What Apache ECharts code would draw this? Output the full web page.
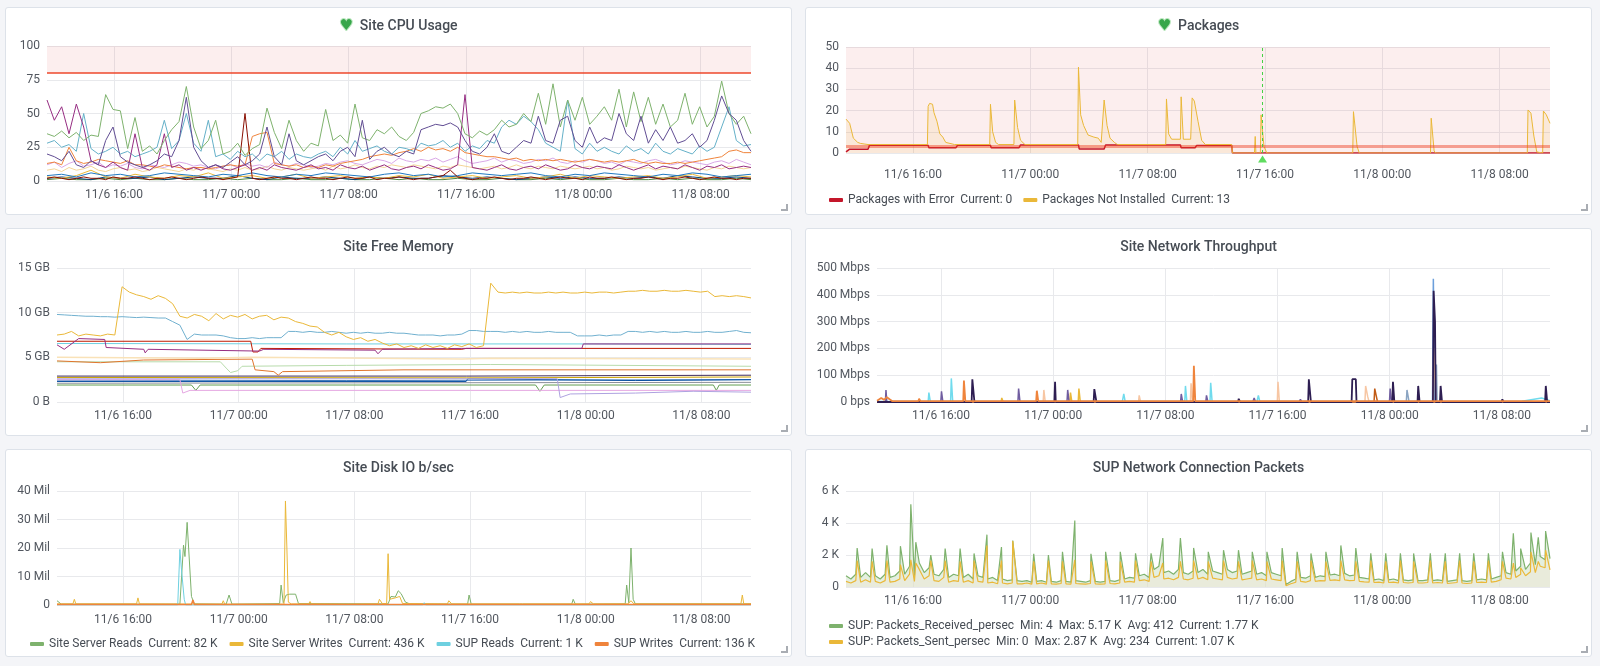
<!DOCTYPE html>
<html lang="en">
<head>
<meta charset="UTF-8">
<title>Site Dashboard</title>
<script src="https://cdn.jsdelivr.net/npm/echarts@6.0.0/dist/echarts.min.js"></script>
<style>
  html, body { margin: 0; padding: 0; background: #f4f5f8; }
  body { width: 1600px; height: 666px; position: relative; overflow: hidden; }
  .panel { position: absolute; width: 787px; height: 208px; box-sizing: border-box;
           background: #fff; border: 1px solid #dde2e9; border-radius: 3px; }
  .panel .chart { position: absolute; left: 0; top: 0; width: 785px; height: 206px; }
  /* grafana resize corner */
  .panel:after { content: ''; position: absolute; right: 3px; bottom: 3px; width: 5px; height: 5px;
                 border-right: 2px solid #a9adb3; border-bottom: 2px solid #a9adb3; }
</style>
</head>
<body>

<div class="panel" style="left:5px;top:7px"><div class="chart" id="cpu"></div></div>
<div class="panel" style="left:805px;top:7px"><div class="chart" id="pkg"></div></div>
<div class="panel" style="left:5px;top:228px"><div class="chart" id="mem"></div></div>
<div class="panel" style="left:805px;top:228px"><div class="chart" id="net"></div></div>
<div class="panel" style="left:5px;top:449px"><div class="chart" id="disk"></div></div>
<div class="panel" style="left:805px;top:449px"><div class="chart" id="sup"></div></div>

<script>
// ---- time window: 48h starting 11/6 11:26, data x = hours from start ----
var START = new Date(2019, 10, 6, 11, 26).getTime();
var HOUR = 3600 * 1000;
var SPAN_H = 48;
var tickLabels = ['11/6 16:00', '11/7 00:00', '11/7 08:00', '11/7 16:00', '11/8 00:00', '11/8 08:00'];

// ---- Site CPU Usage (%), one value every 30 min ----
var cpuGreen = [35,33,37,32,36,30,34,33,64,53,52,24, 47,22,26,20,30,38,44,70,40,24,30,45,
  20,22,28,19,24,27,54,36,24,45,30,22, 28,26,53,30,34,28,57,32,30,38,35,40,
  33,30,36,50,52,55,54,57,50,35,32,37, 34,38,45,40,42,50,44,65,42,72,40,60,
  45,62,42,48,55,45,68,40,66,44,62,42, 57,40,45,65,42,55,40,48,74,50,42,48, 35];
var cpuBlue = [28,30,25,27,22,50,24,20,22,25,20,22, 18,20,22,25,45,24,30,50,28,22,45,18,
  20,16,22,18,20,15,20,18,22,16,20,18, 17,20,22,18,25,20,30,22,24,26,22,20,
  25,24,22,28,26,27,30,25,28,22,26,24, 30,28,40,45,42,48,44,38,28,25,22,60,
  24,20,28,22,25,22,20,26,22,24,20,28, 22,20,24,22,20,26,22,25,40,55,30,26, 27];
var cpuPurple = [20,18,15,22,12,10,15,12,30,40,18,14, 12,10,12,15,20,18,30,62,25,15,10,12,
  10,14,18,12,15,20,40,18,12,35,15,12, 15,18,20,15,22,25,18,45,16,22,25,20,
  18,22,20,38,40,42,41,43,40,30,22,20, 25,35,22,20,25,30,28,48,30,28,45,48,
  30,25,40,28,32,30,50,35,30,48,28,38, 30,40,28,30,35,25,30,45,63,50,45,30, 22];
var cpuMagenta = [60,45,55,35,57,40,15,12,10,14,10,8, 35,10,8,12,35,10,12,8,10,8,10,12,
  9,8,10,12,8,10,8,12,10,9,8,10, 12,9,10,8,12,10,9,11,8,10,12,9,
  8,10,11,9,12,10,8,9,12,64,10,9, 8,10,12,9,8,10,11,9,12,10,8,9,
  12,10,9,11,10,9,12,10,8,10,12,9, 11,10,9,12,10,8,11,10,12,9,10,11, 10];
var cpuOrange = [13,14,12,25,15,13,14,16,15,14,13,15, 12,12,11,10,12,11,10,9,10,10,9,10,
  11,12,11,12,33,35,36,13,12,11,12,10, 11,10,12,11,13,14,15,16,18,19,20,19,
  21,22,24,22,25,23,24,22,25,21,20,19, 18,18,17,16,17,15,16,15,16,15,16,15,
  14,15,16,15,14,15,14,15,16,14,13,14, 13,13,14,13,14,15,16,17,18,22,23,21, 21];
var cpuLavender = [12,14,10,13,15,11,12,14,10,12,11,13, 10,9,12,11,10,12,14,13,11,12,10,9,
  11,12,10,13,11,12,10,14,12,11,13,12, 10,11,13,12,14,15,13,12,14,16,15,13,
  17,15,14,16,15,17,14,16,18,15,13,14, 15,17,14,16,15,13,14,16,15,17,14,13,
  15,14,16,15,13,14,12,15,14,13,15,16, 14,12,13,15,14,13,12,14,15,13,16,14, 12];
var cpuCream = [8,9,7,10,8,9,11,8,7,9,10,8, 9,7,8,10,9,8,7,9,8,10,9,8,
  7,9,8,10,8,9,11,9,8,10,9,8, 9,10,8,11,9,10,12,10,9,11,10,12,
  11,10,12,11,10,9,11,10,12,11,10,9, 10,11,9,10,12,10,9,11,10,9,11,10,
  9,10,11,9,10,8,9,11,10,9,10,8, 9,10,9,11,10,9,8,10,9,11,10,9, 10];
var cpuDarkRed = [2,3,2,1,2,3,2,2,1,3,2,2, 3,2,1,2,2,3,2,1,2,3,2,2,
  1,2,3,50,2,1,2,3,2,2,1,2, 3,2,2,1,2,3,2,2,3,1,2,2,
  3,2,1,2,2,3,4,8,3,2,1,2, 2,3,2,1,2,2,3,2,1,2,3,2,
  2,1,3,2,2,3,2,1,2,2,3,2, 1,2,2,3,2,1,2,3,2,2,1,2, 2];
// hourly low-usage hosts
var cpuBlueLow = [4,5,3,6,4,5,3,4,6,5, 4,3,5,4,6,4,3,5,4,6, 5,4,3,5,6,4,5,3,4,6, 5,4,5,6,4,3,5,4,6,5, 4,3,5,4,6,5,3,4,5];
var cpuYellowLow = [3,2,4,8,3,2,5,3,2,4, 3,6,2,3,4,2,3,5,2,3, 4,2,3,2,4,3,5,2,3,4, 2,3,4,2,3,5,2,4,3,2, 3,4,2,3,5,2,3,4,3];
var cpuNavyLow = [2,3,2,1,3,2,2,3,1,2, 3,2,2,4,2,1,3,2,2,3, 2,1,3,2,3,2,2,4,3,2, 3,2,1,2,3,2,3,2,2,3, 2,3,2,4,3,2,2,3,2];
var cpuGreenLow = [1,2,1,1,2,1,2,1,1,2, 1,1,2,1,2,1,1,2,1,1, 2,1,1,2,1,2,1,1,2,1, 1,2,1,1,2,1,2,1,1,2, 1,1,2,1,2,1,1,2,1];
var cpuThreshold = 80;

// ---- Packages, [hour, count] ----
var pkgError = [[0,0.5],[0.25,1.8],[1.5,1.8],[1.6,3.6],[5.6,3.6],[5.65,2.5],[7.5,2.5],[7.6,3.6],[9.85,3.6],[9.9,2.5],
  [11.8,2.5],[11.9,3.8],[15.85,3.8],[15.9,1.9],[17.6,1.9],[17.7,3.8],[22.8,3.8],[22.85,2.5],[23.8,2.5],[23.9,3.5],
  [26.3,3.5],[26.35,0],[48,0]];
var pkgNotInstalled = [[0,16],[0.25,14],[0.5,7],[0.8,5],[1.0,4.5],[1.5,4],[5.55,4],[5.6,22],[5.7,23.4],[5.9,23],
  [6.0,19],[6.2,15],[6.4,9],[6.6,7.5],[6.8,5],[7.4,4],[9.8,4],[9.85,23],[10.0,10],[10.2,5],[10.4,4],[11.45,4],
  [11.5,25],[11.7,12],[11.9,6],[12.2,4],[15.8,4],[15.85,40.5],[16.0,18],[16.2,13],[16.5,8.5],[16.9,7.5],[17.2,7],
  [17.4,5],[17.6,25],[17.8,13],[18.0,7],[18.3,5],[18.5,4],[21.8,4],[21.85,25.5],[22.0,9],[22.2,6.5],[22.8,6.5],
  [22.85,26.5],[23.0,6.5],[23.5,6.5],[23.6,26],[23.75,24.5],[24.0,15],[24.25,6],[24.5,4],[26.3,4],[26.35,0],
  [27.85,0],[27.9,7.8],[27.95,0],[28.25,0],[28.3,18],[28.5,3],[28.7,0],[34.55,0],[34.6,19.5],[34.85,3],[35.0,0],
  [39.85,0],[39.9,16.4],[40.1,1],[40.2,0],[46.45,0],[46.5,20.3],[46.7,18.8],[46.9,8],[47.1,0.5],[47.5,0],
  [47.55,19.8],[47.75,18],[48,14]];
var pkgThreshold = 3;
var pkgAnnotationHour = 28.4;
var pkgNames = ['Packages with Error', 'Packages Not Installed'];
var pkgCurrent = ['0', '13'];

// ---- Site Free Memory (GB) ----
var memYellow = [7.5,7.6,7.9,7.4,7.6,7.5,7.4,7.6,7.5,12.9,12.3,12.0, 11.8,11.5,11.9,11.6,11.0,9.6,9.4,9.8,9.6,9.1,9.9,9.3,
  9.7,9.5,9.8,9.3,9.6,9.7,9.2,9.5,9.4,9.0,8.8,8.5, 8.4,7.8,7.5,7.8,7.3,7.0,7.2,6.8,7.0,6.6,6.3,6.5,
  6.1,6.3,6.0,6.4,6.1,6.3,6.0,6.4,6.2,6.5,6.1,6.3, 13.3,12.3,12.2,12.3,12.2,12.3,12.2,12.2,12.3,12.2,12.3,12.2,
  12.2,12.3,12.2,12.3,12.3,12.2,12.3,12.4,12.4,12.5,12.4,12.4, 12.5,12.4,12.4,12.5,12.4,12.3,12.4,11.8,11.9,11.8,11.9,11.8, 11.65];
var memBlue = [9.8,9.75,9.7,9.65,9.6,9.6,9.55,9.55,9.5,9.55,9.5,9.45, 9.5,9.45,9.4,9.4,9.0,8.6,7.0,7.6,7.5,7.5,7.5,7.4,
  7.2,7.1,7.1,7.2,7.1,7.2,7.2,7.2,7.9,7.9,7.8,7.9, 7.8,7.8,7.9,7.8,7.7,7.8,7.7,7.8,7.7,7.7,7.8,7.7,
  7.7,7.6,7.5,7.5,7.5,7.4,7.5,7.5,7.6,8.0,8.0,7.9, 7.9,7.9,7.8,7.9,7.8,7.9,7.8,7.8,7.9,7.8,7.8,7.8,
  7.4,7.4,7.4,7.5,7.4,7.5,7.5,7.9,7.9,7.8,7.9,7.8, 7.9,7.8,7.8,7.9,7.8,7.8,7.9,7.8,7.8,7.9,8.0,7.8, 7.75];
var memCyan = [[0,6.55],[20,6.5],[36.4,6.5],[48,6.45]];
var memRed = [[0,6.8],[13.4,6.8],[13.55,5.6],[13.9,5.6],[14.1,6.0],[28,5.9],[28.3,6.0],[48,6.0]];
var memMagenta = [[0,6.4],[0.5,5.9],[1.5,7.1],[3.3,7.0],[3.4,6.1],[6,5.9],[6.1,5.5],[6.3,5.9],[14,5.7],[14.3,5.9],
  [22,5.8],[22.2,5.4],[22.5,5.9],[28,6.0],[36.3,6.0],[36.4,6.5],[48,6.5]];
var memPeach = [[0,5.0],[10,4.9],[13.5,5.0],[28,4.8],[30,4.9],[48,4.8]];
var memOrange = [[0,4.6],[3,4.4],[6,4.7],[13.5,4.8],[13.7,3.6],[15,3.4],[15.3,3.0],[15.6,3.4],[24,3.6],[48,3.6]];
var memLightGreen = [[0,4.5],[11.3,4.5],[11.7,3.8],[12,3.3],[12.5,3.5],[12.8,4.0],[20,4.1],[30,4.2],[48,4.0]];
var memDark = [[0,2.9],[28.3,2.9],[28.4,3.0],[48,3.0]];
var memGold = [[0,2.75],[28.3,2.7],[48,2.8]];
var memBlueBand = [[0,2.3],[28.3,2.3],[28.4,2.6],[40,2.4],[48,2.5]];
var memSteel = [[0,2.45],[20,2.4],[48,2.5]];
var memGray = [[0,2.1],[48,2.2]];
var memGreen = [[0,1.9],[9.3,1.9],[9.6,1.3],[9.9,1.9],[33.1,1.9],[33.4,1.2],[33.7,1.9],[45.4,1.9],[45.6,1.3],[45.8,1.9],[48,1.9]];
var memPink = [[0,2.5],[8.5,2.5],[8.7,1.0],[9.2,1.3],[48,1.3]];
var memLavender = [[0,2.6],[34.6,2.6],[34.8,0.5],[35.5,0.9],[40,1.0],[44,1.2],[48,1.1]];

// ---- Site Network Throughput (Mbps) ----
var netBlue = [[0,0],[39.62,0],[39.68,460],[39.78,0],[48,0]];
var netNavy = [[0,0],[6.75,0],[6.8,85],[6.9,85],[6.95,0],[12.65,0],[12.7,75],[12.75,0],[15.45,0],[15.5,48],[15.6,46],
  [15.65,0],[25.75,0],[25.8,12],[25.9,0],[30.75,0],[30.8,85],[30.9,84],[30.95,0],[33.85,0],[33.9,85],[34.15,85],
  [34.2,0],[36.75,0],[36.8,75],[36.9,0],[38.55,0],[38.6,60],[38.7,0],[39.65,0],[39.7,415],[39.8,300],[39.85,0],
  [40.15,0],[40.2,60],[40.3,0],[44.55,0],[44.6,10],[44.7,0],[47.65,0],[47.7,60],[47.8,0],[48,0]];
var netPurple = [[0,0],[0.6,0],[0.64,45],[0.7,0],[4.55,0],[4.6,40],[4.7,0],[10.05,0],[10.1,50],[10.2,0],[13.55,0],
  [13.6,45],[13.7,0],[21.65,0],[21.7,30],[21.8,0],[23.45,0],[23.5,25],[23.6,0],[26.8,0],[26.9,15],[27,0],[30.1,0],
  [30.2,10],[30.3,0],[36.55,0],[36.6,50],[36.7,0],[48,0]];
var netSteelBlue = [[0,0],[37.75,0],[37.8,45],[37.9,40],[37.95,0],[39.85,0],[39.9,140],[39.95,0],[48,0]];
var netPeach = [[0,0],[11.85,0],[11.9,45],[12.0,0],[18.65,0],[18.7,25],[18.8,0],[22.35,0],[22.4,70],[22.5,0],[28.55,0],
  [28.6,75],[28.7,0],[34.8,0],[34.85,60],[35.0,20],[35.1,0],[39.65,0],[39.72,200],[39.85,0],[48,0]];
var netCyan = [[0,2],[3.65,2],[3.7,35],[3.8,2],[5.25,2],[5.3,88],[5.4,2],[17.5,2],[17.6,30],[17.7,2],[21.95,2],[22.0,60],
  [22.1,2],[23.75,2],[23.8,72],[23.9,2],[27.1,2],[27.2,25],[27.3,2],[46,3],[47.4,15],[47.5,8],[48,5]];
var netYellow = [[0,0],[8.85,0],[8.9,15],[9.0,0],[13.75,0],[13.8,35],[13.9,0],[14.35,0],[14.4,50],[14.5,0],[48,0]];
var netDarkOrange = [[0,0],[35.45,0],[35.5,50],[35.6,25],[35.7,0],[48,0]];
var netOrange = [[0,5],[0.3,15],[0.5,8],[0.7,18],[0.9,10],[1.1,3],[2.95,3],[3.0,12],[3.1,3],[6.15,3],[6.2,80],[6.3,3],
  [11.35,3],[11.4,42],[11.5,3],[22.55,3],[22.6,135],[22.7,3],[32.9,3],[33,8],[33.1,3],[48,3]];

// ---- Site Disk IO b/sec (millions) ----
var diskNames = ['Site Server Reads', 'Site Server Writes', 'SUP Reads', 'SUP Writes'];
var diskCurrent = ['82 K', '436 K', '1 K', '136 K'];
var diskReads = [[0,1.5],[0.3,0.3],[8.5,0.3],[8.75,21],[8.85,17],[9.0,29],[9.3,3],[9.5,0.4],[11.7,0.3],[11.9,3.5],
  [12.1,0.3],[15.4,0.5],[15.5,7],[15.65,0.8],[15.85,3.5],[16.1,3.8],[16.5,3.8],[16.7,0.5],[22.9,0.4],[23.1,3],
  [23.4,2.8],[23.6,5],[23.8,4],[24.1,1],[24.4,0.4],[28.4,0.3],[28.5,3.5],[28.65,0.3],[35.6,0.3],[35.7,2],
  [35.85,0.3],[39.3,0.4],[39.4,7],[39.55,0.8],[39.7,20],[39.85,2],[40.0,0.4],[48,0.4]];
var diskWrites = [[0,0.4],[1.1,0.4],[1.2,2],[1.3,0.4],[5.5,0.4],[5.6,2.5],[5.7,0.4],[11.4,0.3],[11.5,1.5],[11.6,0.3],
  [15.7,0.3],[15.8,36.5],[15.9,20],[16.0,1],[16.2,0.4],[17.4,0.4],[17.5,1.2],[17.6,0.4],[20.0,0.3],[20.1,1],
  [20.2,0.3],[22.2,0.4],[22.3,2],[22.5,0.5],[22.8,0.5],[22.9,18],[23.0,2],[23.4,2.5],[23.7,3],[23.9,0.5],
  [27.0,0.4],[27.1,1.5],[27.3,0.4],[32,0.4],[32.1,1],[32.2,0.4],[36.8,0.4],[36.9,1.2],[37.1,0.4],[39.5,0.4],
  [39.7,1.5],[39.9,0.4],[47.3,0.4],[47.4,3.5],[47.5,0.4],[48,0.45]];
var diskSupReads = [[0,0],[8.35,0],[8.5,19.5],[8.6,13],[8.8,2],[8.9,0],[25.3,0],[25.4,0.8],[25.5,0],[48,0]];
var diskSupWrites = [[0,0.2],[9.3,0.2],[9.4,1.8],[9.5,0.2],[48,0.14]];

// ---- SUP Network Connection Packets (K), base every 20 min + hourly bursts ----
var supNames = ['SUP: Packets_Received_persec', 'SUP: Packets_Sent_persec'];
var supStats = ['Min: 4  Max: 5.17 K  Avg: 412  Current: 1.77 K', 'Min: 0  Max: 2.87 K  Avg: 234  Current: 1.07 K'];
var supRecvBase = [0.7,0.5,0.8,0.6,0.9,0.6,0.7,0.5,0.8,0.6,0.7,1.0, 0.8,1.3,0.7,1.5,0.9,1.2,0.8,0.7,1.1,0.6,0.8,0.7,
  0.6,0.8,0.5,0.7,0.6,0.5,0.6,0.4,0.5,0.4,0.45,0.4, 0.35,0.4,0.3,0.35,0.4,0.3,0.35,0.3,0.4,0.35,0.3,0.4,
  0.35,0.3,0.4,0.35,0.3,0.35,0.4,0.35,0.45,0.5,0.6,0.55, 0.7,0.8,0.6,1.1,1.3,0.9,1.0,0.8,1.1,0.9,0.8,1.0,
  0.9,1.1,0.8,1.0,0.9,0.8,1.1,0.9,1.0,0.8,0.9,1.0, 0.8,0.9,0.7,0.9,0.8,0.7,0.15,0.35,0.5,0.6,0.55,0.7,
  0.6,0.7,0.65,0.75,0.8,0.7,0.85,0.7,0.75,0.6,0.55,0.5, 0.45,0.5,0.4,0.45,0.5,0.4,0.45,0.4,0.45,0.4,0.4,0.45,
  0.4,0.45,0.4,0.35,0.4,0.45,0.4,0.35,0.4,0.45,0.5,0.45, 0.5,0.6,0.7,0.9,0.8,1.0,1.3,1.1,1.5,1.4,1.9,1.7, 1.77];
var supSentBase = [0.35,0.25,0.4,0.3,0.45,0.3,0.35,0.25,0.4,0.3,0.35,0.5, 0.4,0.8,0.35,1.1,0.5,0.7,0.4,0.35,0.6,0.3,0.4,0.35,
  0.3,0.4,0.25,0.35,0.3,0.25,0.3,0.2,0.25,0.2,0.25,0.2, 0.2,0.25,0.18,0.2,0.25,0.18,0.2,0.18,0.22,0.2,0.18,0.22,
  0.2,0.18,0.22,0.2,0.18,0.2,0.22,0.2,0.25,0.3,0.35,0.3, 0.4,0.45,0.35,0.6,0.7,0.5,0.55,0.45,0.6,0.5,0.45,0.55,
  0.5,0.6,0.45,0.55,0.5,0.45,0.6,0.5,0.55,0.45,0.5,0.55, 0.45,0.5,0.4,0.5,0.45,0.4,0.08,0.2,0.3,0.35,0.3,0.4,
  0.35,0.4,0.38,0.42,0.45,0.4,0.45,0.4,0.42,0.35,0.32,0.3, 0.28,0.3,0.25,0.28,0.3,0.25,0.28,0.25,0.28,0.25,0.25,0.28,
  0.25,0.28,0.25,0.22,0.25,0.28,0.25,0.22,0.25,0.28,0.3,0.28, 0.3,0.35,0.45,0.55,0.5,0.6,0.8,0.7,0.95,0.9,1.3,1.2, 1.07];
var supRecvSpikes = [[0.76,2.44],[1.78,2.4],[2.79,2.6],[3.71,2.55],[4.42,5.17],[4.76,2.8],[5.78,2.0],[6.76,2.4],[7.78,2.4],
  [8.73,2.1],[9.61,3.27],[10.6,2.5],[11.37,2.9],[12.8,2.07],[13.8,2.0],[14.76,2.2],[15.6,4.16],[16.7,2.07],[17.7,2.2],
  [18.7,2.2],[19.74,2.1],[20.8,2.1],[21.6,3.06],[22.8,3.06],[23.7,2.44],[24.7,2.2],[25.74,2.3],[26.76,2.3],[27.7,2.2],
  [28.7,2.2],[29.74,2.44],[30.76,2.2],[31.7,2.1],[32.72,2.2],[33.74,2.6],[34.76,2.44],[35.78,2.1],[36.8,2.1],[37.8,2.1],
  [38.7,2.1],[39.84,2.1],[40.86,2.1],[41.84,2.1],[42.8,2.1],[43.8,2.1],[44.76,2.2],[45.5,3.35],[46,2.4],[46.7,3.4],
  [47.2,3.1],[47.7,3.5]];
var supSentSpikes = [[0.76,1.65],[1.78,1.6],[2.79,1.65],[3.71,1.4],[4.42,1.7],[4.76,1.5],[5.78,1.65],[6.76,1.65],[7.78,1.6],
  [8.73,1.65],[9.61,2.6],[10.6,1.65],[11.37,2.87],[12.8,1.6],[13.8,1.65],[14.76,1.6],[15.6,1.7],[16.7,1.6],[17.7,1.65],
  [18.7,1.6],[19.74,1.65],[20.8,1.6],[21.6,1.5],[22.8,1.6],[23.7,1.65],[24.7,1.6],[25.74,1.65],[26.76,1.6],[27.7,1.65],
  [28.7,1.6],[29.74,1.65],[30.76,1.6],[31.7,1.65],[32.72,1.6],[33.74,1.65],[34.76,1.6],[35.78,1.65],[36.8,1.6],[37.8,1.65],
  [38.7,1.6],[39.84,1.65],[40.86,1.6],[41.84,1.65],[42.8,1.6],[43.8,1.65],[44.76,1.6],[45.5,1.5],[46,1.2],[46.7,2.2],
  [47.2,1.6],[47.7,2.3]];

// ---- helpers ----
var FONT = 'Roboto, "DejaVu Sans", sans-serif';
var GRID_COLOR = '#e8e9ec';
var LABEL_COLOR = '#52575f';
var TITLE_COLOR = '#464c54';

function pad(n) { return n < 10 ? '0' + n : '' + n; }
// tick label -> hours from START
function tickHour(s) {
    var p = s.split(/[\/ :]/);
    return (new Date(2019, +p[0] - 1, +p[1], +p[2], +p[3]).getTime() - START) / HOUR;
}
var tickHours = tickLabels.map(tickHour);
function fmtHour(h) {
    var d = new Date(START + h * HOUR);
    return (d.getMonth() + 1) + '/' + d.getDate() + ' ' + pad(d.getHours()) + ':' + pad(d.getMinutes());
}
function byStep(values, stepH) {
    return values.map(function (v, i) { return [i * stepH, v]; });
}
function withSpikes(values, stepH, spikes) {
    return byStep(values, stepH).concat(spikes).sort(function (a, b) { return a[0] - b[0]; });
}
function line(name, color, data, extra) {
    var s = { name: name, type: 'line', data: data, showSymbol: false, symbol: 'none', silent: true,
              lineStyle: { width: 1, color: color }, itemStyle: { color: color } };
    for (var k in extra) s[k] = extra[k];
    return s;
}

function panel(id, cfg) {
    var chart = echarts.init(document.getElementById(id));
    var title = (cfg.heart ? '{h|\u2665}' : '') + '{t|' + cfg.title + '}';
    var option = {
        animation: false,
        textStyle: { fontFamily: FONT },
        title: {
            text: title, left: 'center', top: 6,
            textStyle: { fontFamily: FONT, rich: {
                h: { fontFamily: FONT, fontSize: 15, color: '#37a64a', textBorderColor: '#b9e6bd', textBorderWidth: 2, padding: [0, 7, 0, 0] },
                t: { fontFamily: FONT, fontSize: 14, fontWeight: 500, color: TITLE_COLOR }
            } }
        },
        grid: cfg.grid,
        xAxis: {
            type: 'value', min: 0, max: SPAN_H,
            axisLine: { show: false },
            axisTick: { show: false, customValues: tickHours },
            axisLabel: { customValues: tickHours, formatter: fmtHour, color: LABEL_COLOR, fontSize: 12,
                         fontFamily: FONT, margin: cfg.xMargin || 8 },
            splitLine: { show: true, lineStyle: { color: GRID_COLOR, width: 1 } }
        },
        yAxis: {
            type: 'value', min: 0, max: cfg.yMax, interval: cfg.yStep,
            axisLine: { show: false }, axisTick: { show: false },
            axisLabel: { formatter: cfg.yFmt, color: LABEL_COLOR, fontSize: 12, fontFamily: FONT, margin: 7 },
            splitLine: { show: true, lineStyle: { color: GRID_COLOR, width: 1 } }
        },
        series: cfg.series
    };
    if (cfg.legend) option.legend = cfg.legend;
    chart.setOption(option);
}

function legendBox(left, top, extra) {
    var l = { left: left, top: top, padding: 0, icon: 'roundRect', itemWidth: 14, itemHeight: 4, itemGap: 11,
              selectedMode: false, textStyle: { color: TITLE_COLOR, fontSize: 12, fontFamily: FONT } };
    for (var k in extra) l[k] = extra[k];
    return l;
}

// ---- Site CPU Usage ----
panel('cpu', {
    title: 'Site CPU Usage', heart: true,
    grid: { left: 41, right: 40, top: 38, bottom: 33 },
    yMax: 100, yStep: 25,
    series: [
        line('cpu-green-low', '#508642', byStep(cpuGreenLow, 1), {
            markArea: { silent: true, itemStyle: { color: 'rgba(234,112,112,0.12)' },
                        data: [[{ yAxis: cpuThreshold }, { yAxis: 100 }]] },
            markLine: { silent: true, symbol: 'none', label: { show: false },
                        lineStyle: { color: 'rgba(237,60,30,0.7)', width: 2, type: 'solid' },
                        data: [{ yAxis: cpuThreshold }] }
        }),
        line('cpu-navy-low', '#0A437C', byStep(cpuNavyLow, 1)),
        line('cpu-yellow-low', '#EAB839', byStep(cpuYellowLow, 1)),
        line('cpu-blue-low', '#1F78C1', byStep(cpuBlueLow, 1)),
        line('cpu-cream', '#F4D598', byStep(cpuCream, 0.5)),
        line('cpu-lavender', '#D9A8E6', byStep(cpuLavender, 0.5)),
        line('cpu-orange', '#EF843C', byStep(cpuOrange, 0.5)),
        line('cpu-darkred', '#890F02', byStep(cpuDarkRed, 0.5)),
        line('cpu-blue', '#64B0C8', byStep(cpuBlue, 0.5)),
        line('cpu-magenta', '#962D82', byStep(cpuMagenta, 0.5)),
        line('cpu-green', '#7EB26D', byStep(cpuGreen, 0.5)),
        line('cpu-purple', '#614D93', byStep(cpuPurple, 0.5))
    ]
});

// ---- Packages ----
panel('pkg', {
    title: 'Packages', heart: true,
    grid: { left: 40, right: 41, top: 39, bottom: 61 },
    xMargin: 16,
    yMax: 50, yStep: 10,
    legend: legendBox(23, 186, {
        data: pkgNames,
        formatter: function (name) { return name + '  Current: ' + pkgCurrent[pkgNames.indexOf(name)]; }
    }),
    series: [
        line(pkgNames[0], '#C4162A', pkgError, {
            lineStyle: { width: 1.5, color: '#C4162A' },
            markArea: { silent: true, itemStyle: { color: 'rgba(234,112,112,0.12)' },
                        data: [[{ yAxis: 0 }, { yAxis: 50 }]] },
            markLine: { silent: true, symbol: 'none', label: { show: false },
                        data: [
                            { yAxis: pkgThreshold, lineStyle: { color: 'rgba(237,60,30,0.45)', width: 3, type: 'solid' } },
                            { xAxis: pkgAnnotationHour, lineStyle: { color: '#45d145', width: 1, type: [3, 3] } }
                        ] },
            markPoint: { silent: true, symbol: 'triangle', symbolSize: [9, 7], symbolOffset: [0, 6],
                         itemStyle: { color: '#5fdc5f' }, label: { show: false },
                         data: [{ coord: [pkgAnnotationHour, 0] }] }
        }),
        line(pkgNames[1], '#EAB839', pkgNotInstalled, {
            areaStyle: { color: 'rgba(234,184,57,0.16)' }
        })
    ]
});

// ---- Site Free Memory ----
panel('mem', {
    title: 'Site Free Memory',
    grid: { left: 51, right: 40, top: 39, bottom: 33 },
    yMax: 15, yStep: 5,
    yFmt: function (v) { return v === 0 ? '0 B' : v + ' GB'; },
    series: [
        line('m-gray', '#8a8f99', memGray),
        line('m-green', '#629E51', memGreen),
        line('m-steel', '#447EBC', memSteel),
        line('m-blueband', '#0A50A1', memBlueBand),
        line('m-gold', '#CCA300', memGold),
        line('m-dark', '#3F2B5B', memDark),
        line('m-pink', '#E5A8E2', memPink),
        line('m-lavender', '#AEA2E0', memLavender),
        line('m-lightgreen', '#B7DBAB', memLightGreen),
        line('m-orange', '#E0752D', memOrange),
        line('m-peach', '#F9E2B8', memPeach, { lineStyle: { width: 1.5, color: '#F9E2B8' } }),
        line('m-cyan', '#6ED0E0', memCyan),
        line('m-red', '#BF1B00', memRed),
        line('m-magenta', '#962D82', memMagenta),
        line('m-blue', '#70B0CF', byStep(memBlue, 0.5)),
        line('m-yellow', '#EAB839', byStep(memYellow, 0.5))
    ]
});

// ---- Site Network Throughput ----
panel('net', {
    title: 'Site Network Throughput',
    grid: { left: 71, right: 41, top: 39, bottom: 33 },
    yMax: 500, yStep: 100,
    yFmt: function (v) { return v === 0 ? '0 bps' : v + ' Mbps'; },
    series: [
        line('n-blue', '#6C9FDB', netBlue, { lineStyle: { width: 1.5, color: '#6C9FDB' } }),
        line('n-steel', '#8AA4C2', netSteelBlue, { lineStyle: { width: 1.5, color: '#8AA4C2' } }),
        line('n-peach', '#F7C6A3', netPeach, { lineStyle: { width: 1.5, color: '#F7C6A3' } }),
        line('n-cyan', '#70DBED', netCyan, { lineStyle: { width: 1.5, color: '#70DBED' } }),
        line('n-yellow', '#EAB839', netYellow, { lineStyle: { width: 1.5, color: '#EAB839' } }),
        line('n-purple', '#705DA0', netPurple, { lineStyle: { width: 1.5, color: '#705DA0' } }),
        line('n-darkorange', '#C15C17', netDarkOrange, { lineStyle: { width: 1.5, color: '#C15C17' } }),
        line('n-navy', '#2E1E52', netNavy, { lineStyle: { width: 1.8, color: '#2E1E52' } }),
        line('n-orange', '#EF843C', netOrange, { lineStyle: { width: 1.8, color: '#EF843C' } })
    ]
});

// ---- Site Disk IO b/sec ----
panel('disk', {
    title: 'Site Disk IO b/sec',
    grid: { left: 51, right: 40, top: 41, bottom: 51 },
    xMargin: 9,
    yMax: 40, yStep: 10,
    yFmt: function (v) { return v === 0 ? '0' : v + ' Mil'; },
    legend: legendBox(24, 188, {
        data: diskNames, itemGap: 12,
        formatter: function (name) { return name + '  Current: ' + diskCurrent[diskNames.indexOf(name)]; }
    }),
    series: [
        line(diskNames[0], '#7EB26D', diskReads),
        line(diskNames[1], '#EAB839', diskWrites),
        line(diskNames[2], '#6ED0E0', diskSupReads),
        line(diskNames[3], '#EF843C', diskSupWrites, { lineStyle: { width: 1.5, color: '#EF843C' } })
    ]
});

// ---- SUP Network Connection Packets ----
panel('sup', {
    title: 'SUP Network Connection Packets',
    grid: { left: 40, right: 41, top: 41, bottom: 69 },
    yMax: 6, yStep: 2,
    yFmt: function (v) { return v === 0 ? '0' : v + ' K'; },
    legend: legendBox(23, 170, {
        data: supNames, orient: 'vertical', itemGap: 4, height: 40,
        formatter: function (name) { return name + '  ' + supStats[supNames.indexOf(name)]; }
    }),
    series: [
        line(supNames[0], '#7EB26D', withSpikes(supRecvBase, 1 / 3, supRecvSpikes), {
            lineStyle: { width: 1.2, color: '#7EB26D' },
            areaStyle: { color: 'rgba(126,178,109,0.3)' }
        }),
        line(supNames[1], '#EAB839', withSpikes(supSentBase, 1 / 3, supSentSpikes), {
            lineStyle: { width: 1.2, color: '#EAB839' },
            areaStyle: { color: 'rgba(236,232,214,0.85)' }
        })
    ]
});
</script>
</body>
</html>
